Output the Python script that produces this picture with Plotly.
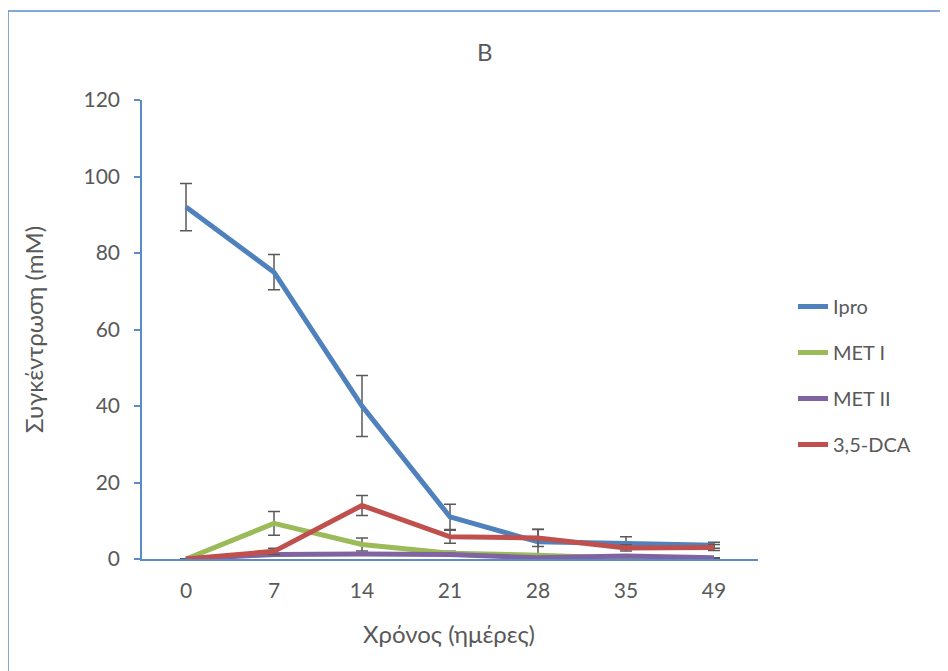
import plotly.graph_objects as go

days = ["0", "7", "14", "21", "28", "35", "49"]
ipro = [92, 75, 40, 11, 4.5, 4.2, 3.6]
ipro_err = [6.2, 4.6, 8, 3.3, 3.3, 1.6, 0.8]
met1 = [0, 9.3, 3.8, 1.5, 1.0, 0.2, 0.1]
met1_err = [0, 3.1, 1.7, 0.5, 0.3, 0, 0]
met2 = [0, 1.2, 1.3, 1.2, 0.3, 0.8, 0.3]
met2_err = [0, 0.3, 0.3, 0.3, 0, 0, 0]
dca = [0, 2.0, 14.0, 5.8, 5.5, 2.9, 3.0]
dca_err = [0, 0.8, 2.6, 1.7, 2.2, 0.8, 0.8]

names = ["Ipro", "MET I", "MET II", "3,5-DCA"]
colors = ["#4F81BD", "#9BBB59", "#8064A2", "#C0504D"]
series = [(ipro, ipro_err), (met1, met1_err), (met2, met2_err), (dca, dca_err)]

FONT = "Lato"
TXT = "#595959"
AX = "#5B8BC9"

fig = go.Figure()
for name, col, (vals, errs) in zip(names, colors, series):
    fig.add_trace(go.Scatter(
        x=days, y=vals, name=name, mode="lines", legendgroup=name,
        line=dict(color=col, width=5),
        error_y=dict(type="data", array=errs, visible=True,
                     color="#595959", thickness=1.5, width=6),
    ))

# page has an 8px body offset; work in page pixel coordinates
OFF = 8
W, H = 948 - OFF, 671 - OFF
L, T = 142 - OFF, 100 - OFF
pw, ph = 616, 459
R, B = W - L - pw, H - T - ph

def px(x):
    return (x - OFF - L) / pw

def py(y):
    return (T + ph - (y - OFF)) / ph

fig.update_layout(
    width=W, height=H,
    margin=dict(l=L, r=R, t=T, b=B),
    paper_bgcolor="white", plot_bgcolor="white",
    font=dict(family=FONT, color=TXT, size=20),
    showlegend=True,
    legend=dict(x=px(793), y=py(287), xanchor="left", yanchor="top",
                font=dict(size=20, color=TXT), tracegroupgap=17,
                itemwidth=30, bgcolor="rgba(0,0,0,0)"),
    xaxis=dict(type="category", range=[-0.5, 6.5], showline=True,
               linecolor=AX, linewidth=1.5, ticks="", showgrid=False,
               zeroline=False, ticklabelstandoff=12,
               tickfont=dict(size=21, color=TXT)),
    yaxis=dict(range=[0, 120], dtick=20, showline=True, linecolor=AX,
               linewidth=1.5, ticks="outside", ticklen=6, tickcolor=AX,
               tickwidth=1.5, showgrid=False, zeroline=False,
               ticklabelstandoff=10,
               tickfont=dict(size=21, color=TXT)),
    annotations=[
        dict(text="B", x=px(485), y=py(52), xref="paper", yref="paper",
             showarrow=False, font=dict(size=24, color=TXT),
             xanchor="center", yanchor="middle"),
        dict(text="Χρόνος (ημέρες)", x=px(449), y=py(633), xref="paper",
             yref="paper", showarrow=False, font=dict(size=24, color=TXT),
             xanchor="center", yanchor="middle"),
        dict(text="Συγκέντρωση (mM)", x=px(33), y=py(330), xref="paper",
             yref="paper", showarrow=False, textangle=-90,
             font=dict(size=24, color=TXT),
             xanchor="center", yanchor="middle"),
    ],
    shapes=[
        dict(type="line", xref="paper", yref="paper", x0=px(8), x1=px(8),
             y0=py(11), y1=py(671), line=dict(color=AX, width=1.5)),
        dict(type="line", xref="paper", yref="paper", x0=px(8), x1=px(948),
             y0=py(11), y1=py(11), line=dict(color=AX, width=1.5)),
    ],
)

fig.write_html("out.html")
